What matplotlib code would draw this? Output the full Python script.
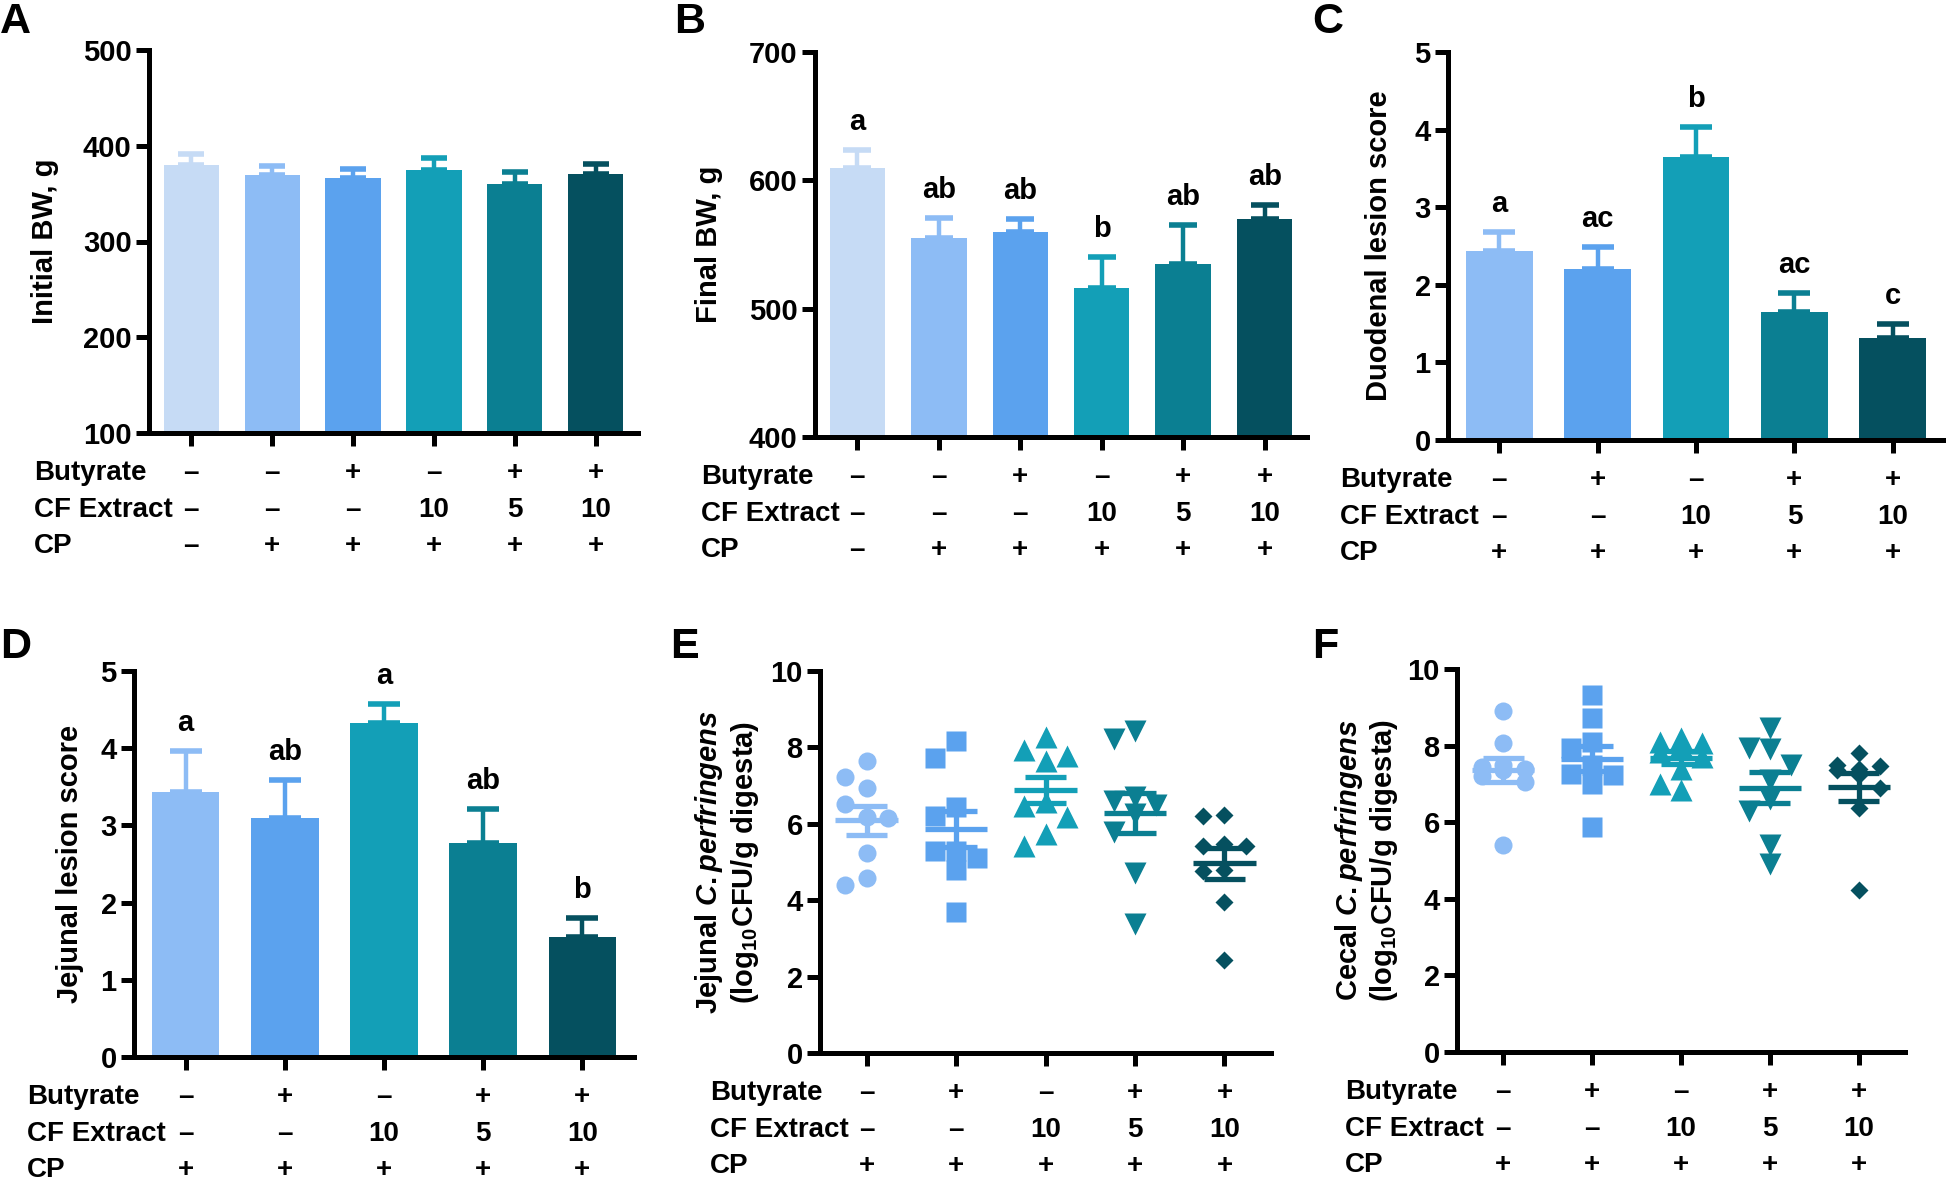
import numpy as np
import matplotlib
matplotlib.use("Agg")
import matplotlib.pyplot as plt
import matplotlib.transforms as mtransforms

plt.rcParams['font.family'] = ['Liberation Sans', 'DejaVu Sans']
plt.rcParams['font.weight'] = 'bold'
plt.rcParams['axes.labelweight'] = 'bold'
plt.rcParams['mathtext.fontset'] = 'custom'
plt.rcParams['mathtext.rm'] = 'Liberation Sans:bold'
plt.rcParams['mathtext.it'] = 'Liberation Sans:italic:bold'
plt.rcParams['mathtext.bf'] = 'Liberation Sans:bold'

# ---- data ----
colors6 = ["#c6dbf5", "#8dbcf5", "#5ba2ee", "#139fb7", "#0b7f92", "#05505f"]
colors5 = colors6[1:]

butyrate6 = ["–", "–", "+", "–", "+", "+"]
cf6 = ["–", "–", "–", "10", "5", "10"]
cp6 = ["–", "+", "+", "+", "+", "+"]
butyrate5 = ["–", "+", "–", "+", "+"]
cf5 = ["–", "–", "10", "5", "10"]
cp5 = ["+", "+", "+", "+", "+"]

init_bw = [380, 369, 366, 375, 360, 370]
init_bw_sem = [11, 10, 10, 12, 13, 11]

final_bw = [610, 555, 560, 516, 535, 570]
final_bw_sem = [14, 16, 10, 24, 30, 11]
final_bw_let = ["a", "ab", "ab", "b", "ab", "ab"]

duod = [2.43, 2.21, 3.65, 1.65, 1.32]
duod_sem = [0.25, 0.28, 0.38, 0.24, 0.18]
duod_let = ["a", "ac", "b", "ac", "c"]

jej = [3.43, 3.10, 4.32, 2.77, 1.55]
jej_sem = [0.54, 0.49, 0.25, 0.44, 0.25]
jej_let = ["a", "ab", "a", "ab", "b"]

jej_cp = [
    [7.65, 7.22, 6.93, 6.52, 6.17, 6.15, 5.24, 4.57, 4.41],
    [8.17, 7.72, 6.45, 6.2, 5.3, 5.3, 5.1, 4.8, 3.7],
    [8.26, 7.94, 7.78, 7.65, 6.57, 6.46, 6.17, 5.74, 5.43],
    [8.43, 8.22, 6.70, 6.6, 6.48, 6.26, 5.78, 4.70, 3.39],
    [6.22, 6.20, 5.48, 5.43, 5.41, 4.78, 4.76, 3.96, 2.43],
]
cec_cp = [
    [8.9, 8.06, 7.5, 7.45, 7.4, 7.35, 7.2, 7.05, 5.4],
    [9.32, 8.71, 8.1, 7.93, 7.49, 7.27, 7.23, 7.01, 5.88],
    [8.19, 8.1, 8.06, 8.01, 7.84, 7.71, 7.40, 7.01, 6.84],
    [8.45, 7.95, 7.9, 7.5, 7.1, 6.6, 6.3, 5.4, 4.9],
    [7.8, 7.49, 7.47, 7.4, 7.36, 7.23, 6.88, 6.36, 4.22],
]
markers = ["o", "s", "^", "v", "D"]
msizes = [13, 15, 16, 16, 9.5]

W, H = 1946, 1181
fig = plt.figure(figsize=(W / 100, H / 100), dpi=100)

FS = 20
YFS = 21


def box(l, r, t, b):
    return [l / W, 1 - b / H, (r - l) / W, (b - t) / H]


def style(ax, ylim, yticks, n):
    for s in ["top", "right"]:
        ax.spines[s].set_visible(False)
    for s in ["left", "bottom"]:
        ax.spines[s].set_linewidth(3.6)
    ax.set_ylim(*ylim)
    ax.set_yticks(yticks)
    ax.set_xlim(-0.52, n - 0.48)
    ax.set_xticks(range(n))
    ax.set_xticklabels([])
    ax.tick_params(width=3.6, length=9.5, labelsize=21, pad=3)
    for lab in ax.get_yticklabels():
        lab.set_fontweight("bold")


def table(ax, bottom_px, label_px, rows):
    tr = mtransforms.blended_transform_factory(ax.transData, fig.transFigure)
    for (name, vals), off in zip(rows, [40, 77, 113]):
        yf = 1 - (bottom_px + off) / H
        fig.text(label_px / W, yf, name, fontsize=FS, fontweight="bold", va="center", ha="left")
        for i, v in enumerate(vals):
            ax.text(i, yf, v, transform=tr, fontsize=FS, fontweight="bold", va="center", ha="center")


def bars(ax, means, sems, cols, letters, spacing_px):
    x = np.arange(len(means))
    ax.bar(x, means, width=0.68, color=cols, zorder=2)
    cap = 0.165 * spacing_px * 0.72
    for i in x:
        ax.errorbar(i, means[i], yerr=[[0], [sems[i]]], color=cols[i], lw=3.2,
                    capsize=cap, capthick=4, zorder=1)
        if letters:
            ax.annotate(letters[i], (i, means[i] + sems[i]), xytext=(0, 10),
                        textcoords="offset points", ha="center", va="bottom",
                        fontsize=21, fontweight="bold")


def swarm(vals, dx, ry):
    vals = np.asarray(vals)
    offs = np.zeros(len(vals))
    placed = []
    for i in np.argsort(-vals):
        best, best_n = 0, None
        for k in [0, -1, 1]:
            n_hit = sum(1 for px, py in placed if abs(k * dx - px) < dx * 0.9 and abs(vals[i] - py) < ry)
            if best_n is None or n_hit < best_n:
                best, best_n = k * dx, n_hit
            if n_hit == 0:
                break
        offs[i] = best
        placed.append((best, vals[i]))
    return offs


def scatter(ax, groups, cols):
    for i, g in enumerate(groups):
        g = np.asarray(g)
        offs = swarm(g, 0.24, 0.5)
        ax.plot(i + offs, g, linestyle="none", marker=markers[i], ms=msizes[i],
                color=cols[i], mec="none", zorder=2)
        m = g.mean()
        se = g.std(ddof=1) / np.sqrt(len(g))
        ax.hlines(m, i - 0.35, i + 0.35, color=cols[i], lw=3.8, zorder=3)
        ax.hlines([m - se, m + se], i - 0.23, i + 0.23, color=cols[i], lw=3.8, zorder=3)
        ax.vlines(i, m - se, m + se, color=cols[i], lw=3.8, zorder=3)


rows6 = [("Butyrate", butyrate6), ("CF Extract", cf6), ("CP", cp6)]
rows5 = [("Butyrate", butyrate5), ("CF Extract", cf5), ("CP", cp5)]

# A
axA = fig.add_axes(box(149, 638, 50, 433))
bars(axA, init_bw, init_bw_sem, colors6, None, 81)
style(axA, (100, 500), range(100, 501, 100), 6)
axA.set_ylabel("Initial BW, g", fontsize=YFS)
axA.yaxis.set_label_coords(-0.184, 0.5)
table(axA, 433, 34, rows6)

# B
axB = fig.add_axes(box(815, 1307, 52, 437))
bars(axB, final_bw, final_bw_sem, colors6, final_bw_let, 82)
style(axB, (400, 700), range(400, 701, 100), 6)
axB.set_ylabel("Final BW, g", fontsize=YFS)
axB.yaxis.set_label_coords(-0.187, 0.5)
table(axB, 437, 701, rows6)

# C
axC = fig.add_axes(box(1448, 1944, 52, 440))
bars(axC, duod, duod_sem, colors5, duod_let, 98)
style(axC, (0, 5), range(0, 6), 5)
axC.set_ylabel("Duodenal lesion score", fontsize=YFS)
axC.yaxis.set_label_coords(-0.111, 0.5)
table(axC, 440, 1340, rows5)

# D
axD = fig.add_axes(box(134, 634, 671, 1057))
bars(axD, jej, jej_sem, colors5, jej_let, 98)
style(axD, (0, 5), range(0, 6), 5)
axD.set_ylabel("Jejunal lesion score", fontsize=YFS)
axD.yaxis.set_label_coords(-0.10, 0.5)
table(axD, 1057, 27, rows5)

# E
axE = fig.add_axes(box(820, 1271, 671, 1053))
scatter(axE, jej_cp, colors5)
style(axE, (0, 10), range(0, 11, 2), 5)
axE.set_ylabel("Jejunal $\\it{C.perfringens}$\n(log$_{10}$CFU/g digesta)", fontsize=YFS, linespacing=1.15)
axE.yaxis.set_label_coords(-0.131, 0.5)
table(axE, 1053, 710, rows5)

# F
axF = fig.add_axes(box(1457, 1905, 669, 1052))
scatter(axF, cec_cp, colors5)
style(axF, (0, 10), range(0, 11, 2), 5)
axF.set_ylabel("Cecal $\\it{C.perfringens}$\n(log$_{10}$CFU/g digesta)", fontsize=YFS, linespacing=1.15)
axF.yaxis.set_label_coords(-0.127, 0.5)
table(axF, 1052, 1345, rows5)

for letter, xp, yp in [("A", 0, 0), ("B", 674, 0), ("C", 1312, 0),
                       ("D", 0, 625), ("E", 670, 625), ("F", 1312, 625)]:
    fig.text(xp / W, 1 - (yp + 2) / H, letter, fontsize=31, fontweight="bold", va="top", ha="left")

fig.savefig("out.png", dpi=100)
